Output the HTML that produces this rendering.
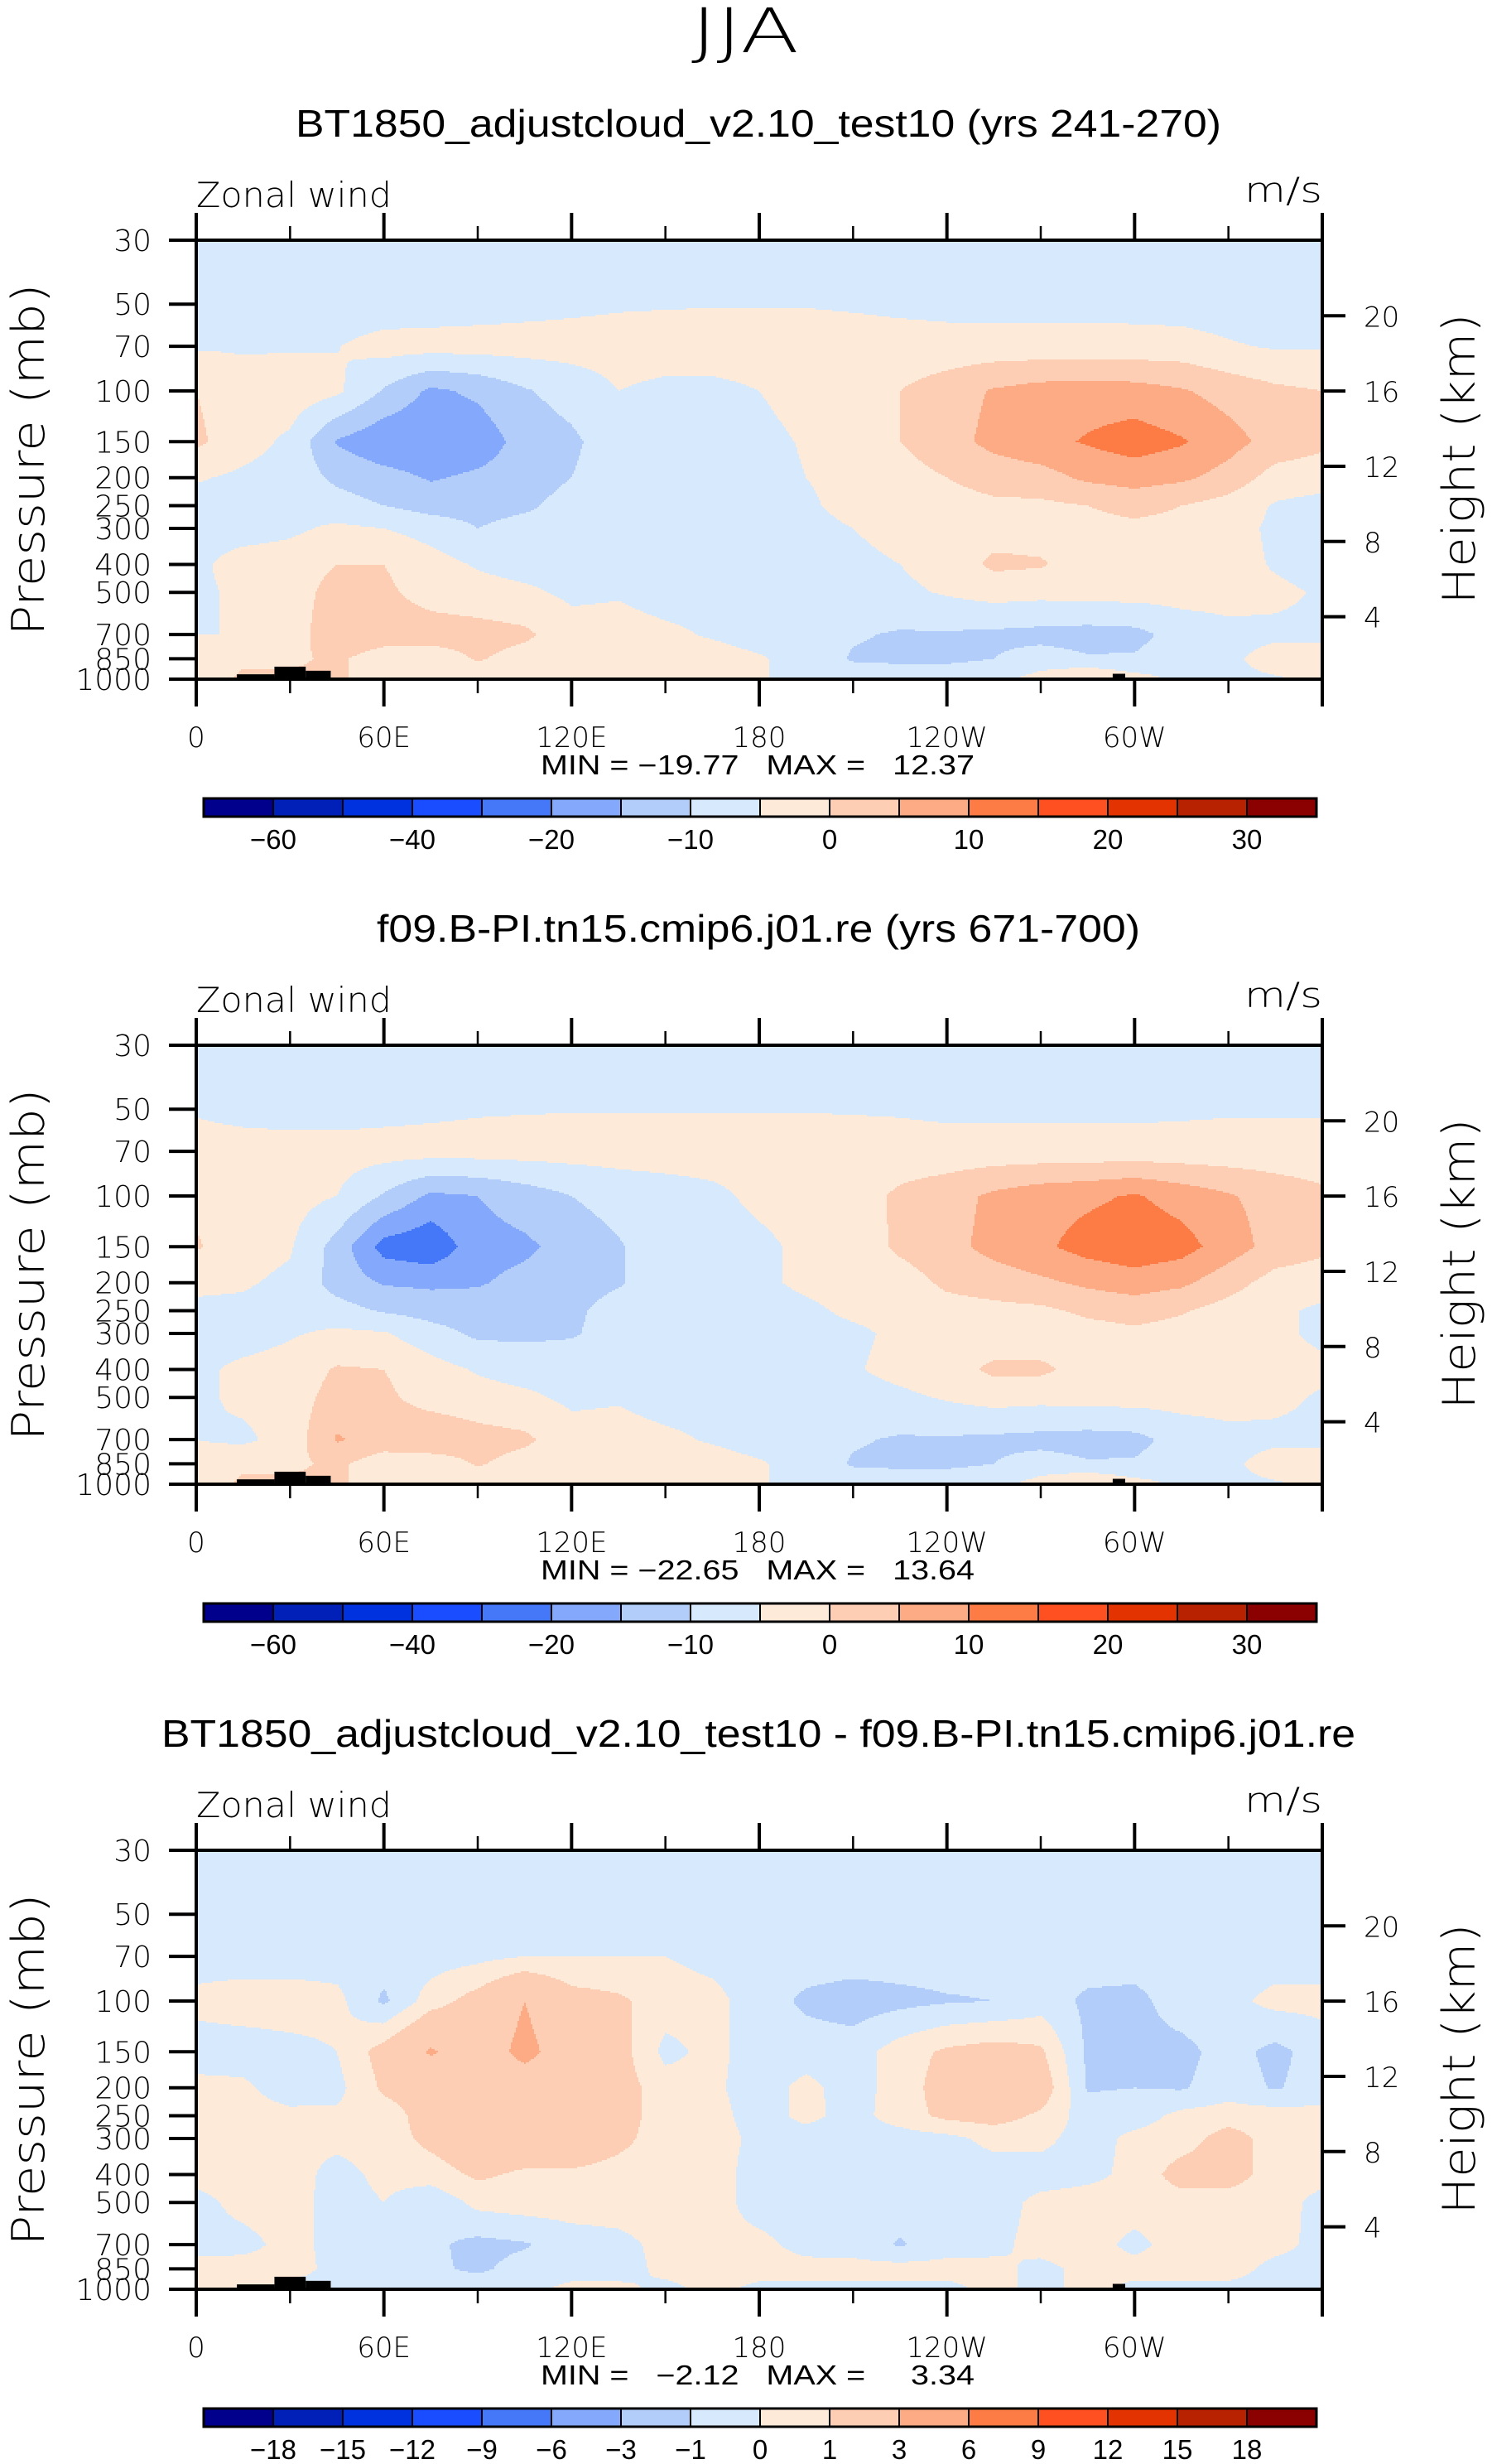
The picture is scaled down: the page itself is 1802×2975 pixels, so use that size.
<!DOCTYPE html>
<html><head><meta charset="utf-8"><title>JJA Zonal wind</title>
<style>
html,body{margin:0;padding:0;background:#fff;}
svg{display:block;}
text{font-family:"Liberation Sans",Arial,sans-serif;fill:#000;}
text.thin{font-family:"DejaVu Sans","Liberation Sans",sans-serif;font-weight:200;}
</style></head>
<body>
<svg id="chart" xmlns="http://www.w3.org/2000/svg" width="1802" height="2975" viewBox="0 0 1802 2975">
<rect x="0" y="0" width="1802" height="2975" fill="#fff"/>
<text class="thin" x="900" y="63" font-size="74" text-anchor="middle" textLength="130" lengthAdjust="spacingAndGlyphs">JJA</text>
</svg>
<script>
// ---------- data ----------
const lons = [0,15,30,45,60,75,90,105,120,135,150,165,180,195,210,225,240,255,270,285,300,315,330,345,360];
const levels = [30,50,70,100,150,200,250,300,400,500,700,850,1000];
const colors = ["#00008c","#0020b8","#0032e0","#1a4dff","#4478f8","#84a8fb","#b3cdfb","#d6e9fd","#feead9","#fdcdb4","#fcab85","#fd7c45","#fe5020","#e23300","#b82200","#8b0000"];
const bounds12 = [-60,-50,-40,-30,-20,-15,-10,-5,0,5,10,15,20,25,30];
const bounds3 = [-18,-15,-12,-9,-6,-3,-1,0,1,3,6,9,12,15,18];
const cbLabels12 = ["−60","","−40","","−20","","−10","","0","","10","","20","","30"];
const cbLabels3 = ["−18","−15","−12","−9","−6","−3","−1","0","1","3","6","9","12","15","18"];
const lonTicks = [0,60,120,180,240,300];
const lonTickLabels = ["0","60E","120E","180","120W","60W"];
const presTicks = [30,50,70,100,150,200,250,300,400,500,700,850,1000];
const kmTicks = [4,8,12,16,20];
const titles = ["BT1850_adjustcloud_v2.10_test10 (yrs 241-270)","f09.B-PI.tn15.cmip6.j01.re (yrs 671-700)","BT1850_adjustcloud_v2.10_test10 - f09.B-PI.tn15.cmip6.j01.re"];
const minMax = ["MIN = −19.77   MAX =   12.37","MIN = −22.65   MAX =   13.64","MIN =   −2.12   MAX =     3.34"];
const terrainLonStart = [13,25,35,96,285,293,297];
const terrainLonEnd = [25,35,43,98,293,297,305];
const terrainSurfP = [962,905,935,993,990,958,990];

const panel1 = [
[-8,-8,-8,-8,-8,-8,-8,-8,-8,-8,-8,-8,-8,-8,-8,-8,-8,-8,-8,-8,-8,-8,-8,-8,-8],
[-8,-8,-8,-8,-8,-7.5,-7,-6.5,-6,-5.5,-5.3,-5.2,-5.2,-5.2,-5.5,-6,-6.5,-6.5,-6.5,-6.5,-6.8,-7.2,-7.5,-8,-8],
[-5.5,-5.5,-5.5,-5.2,-3,-3,-3,-3,-3,-3,-3,-3,-3,-3,-3,-3,-3,-3,-3,-3,-3,-3,-4.5,-5.5,-5.5],
[0,-3,-2,-4,-10.5,-16,-14,-10.5,-8,-5,-6,-6,-5,-3,-2,0,2.5,5.5,7,7.5,7,5.5,3,1,0],
[1,-3,-6,-15.5,-19,-19.5,-18,-13,-11,-7,-7,-7,-6.5,-4.5,-2.5,0,3,6.5,8.5,10.5,12.5,10.5,7,3,1],
[-4.5,-6,-7,-11,-13,-15.5,-14,-12.5,-10,-7,-7,-7,-7,-5,-3,-2,0,2,3,6,7,6,3,-2,-2.5],
[-7,-7,-7,-8,-10,-12,-12,-11,-8,-7,-7,-7,-7,-6,-3,-2.5,-2,-1,-1,0,2,0,-2,-5.5,-7],
[-7,-7,-6,-4,-5,-7,-10,-8,-7,-7,-7,-7,-7,-7,-5,-3,-2,-2,-2,-2,-1.5,-2,-3,-6,-7],
[-6,-3,-2.5,0,0,-3,-5.5,-7,-7,-7,-7,-7,-7,-7,-6.5,-5,-3,1,0.5,-2.5,-3,-3,-3,-5.5,-7],
[-6,-4,-2.5,2,1,-2,-3,-4,-6,-5.5,-7,-7,-7,-7,-7,-6,-4.5,-3,-3.5,-3,-3,-3,-3,-4,-5.5],
[-5,-5,-3,4,3,2.5,2,1,-3,-3,-4,-5.5,-7,-7,-9.5,-10.5,-10.5,-11,-11.5,-12,-11.5,-8,-6.5,-6,-6],
[-3,-1,-1,1,-3,-3,0.5,-2,-3,-3,-3,-3,-4.5,-7,-10.5,-11,-11,-10,-8,-9.5,-9.5,-7,-6,-3,-3],
[-3,1,1,1,-3,-3,-3,-3,-3,-3,-3,-3,-4.5,-7,-7,-7,-7,-6.5,-3,1,-3,-6,-6,-5.5,-4]
];
const panel2 = [
[-8,-8,-8,-8,-8,-8,-8,-8,-8,-8,-8,-8,-8,-8,-8,-8,-8,-8,-8,-8,-8,-8,-8,-8,-8],
[-5.5,-6.5,-7,-7,-6.5,-6,-5.5,-5.3,-5.2,-5.2,-5.2,-5.2,-5.2,-5.2,-5.3,-5.5,-6,-6,-6,-6,-6,-5.8,-5.5,-5.5,-5.5],
[-3,-3,-3,-3,-3,-3,-3,-3,-3,-3,-3,-3,-3,-3,-3,-3,-3,-3,-3,-3,-3,-3,-3,-3,-3],
[-1,-3,-3,-5,-10.5,-16,-15,-12.5,-10,-8,-7,-6,-4,-3,-2.5,1,3,6,8,9,10.5,8,5.5,3,1],
[0.5,-3,-4.5,-12,-22,-24,-17,-16,-13,-10.5,-7,-7,-6,-4,-3,1,3.5,6.5,9,12,13.5,12,7.5,3,1],
[-4,-4.5,-6,-12,-15.5,-16,-15.5,-13.5,-12,-10.5,-7,-7,-6,-4,-3,-2.5,1,2.5,4,6,7.5,6,2,-2,-2.5],
[-6,-6,-7,-8,-10.5,-12,-12.5,-12,-11,-8,-7,-7,-7,-6,-4,-3,-2,-1.5,-1,1,2,0.5,-2,-4,-6],
[-7,-7,-5.5,-4,-4.5,-8,-11,-11,-10.5,-8,-7,-7,-7,-7,-6,-4,-3,-3,-3,-2,-1,-2,-3,-4,-6],
[-6,-4,-3,0.5,0,-3,-5.5,-7,-7,-7,-7,-7,-7,-7,-5.5,-3.5,-2,1,1,-2,-3,-3,-3,-3.5,-4],
[-6,-4,-2.5,2,1,-2,-3,-4,-6,-5.5,-7,-7,-7,-7,-7,-6,-4.5,-3,-3.5,-3,-3,-3,-3,-4,-5.5],
[-5,-6,-3,5.5,3,4,2,1,-3,-3,-4,-5.5,-7,-7,-9.5,-10.5,-10.5,-11,-11.5,-12,-11.5,-8,-6.5,-6,-6],
[-3,-1,-1,1,-3,-3,0.5,-2,-3,-3,-3,-3,-4.5,-7,-10.5,-11,-11,-10,-8,-9.5,-9.5,-7,-6,-3,-3],
[-3,1,1,1,-3,-3,-3,-3,-3,-3,-3,-3,-4.5,-7,-7,-7,-7,-6.5,-3,1,-3,-6,-6,-5.5,-4]
];
const panel3 = [
[-0.5,-0.5,-0.5,-0.5,-0.5,-0.5,-0.5,-0.5,-0.5,-0.5,-0.5,-0.5,-0.5,-0.5,-0.5,-0.5,-0.5,-0.5,-0.5,-0.5,-0.5,-0.5,-0.5,-0.5,-0.5],
[-0.5,-0.5,-0.5,-0.5,-0.5,-0.5,-0.5,-0.5,-0.5,-0.5,-0.5,-0.5,-0.5,-0.5,-0.5,-0.5,-0.5,-0.5,-0.5,-0.5,-0.5,-0.5,-0.5,-0.5,-0.5],
[-0.5,-0.5,-0.5,-0.5,-0.5,-0.5,-0.3,0,0,0,0,-0.3,-0.5,-0.5,-0.5,-0.5,-0.5,-0.5,-0.5,-0.5,-0.5,-0.5,-0.5,-0.5,-0.5],
[0.3,0.5,0.5,0.3,-1.2,0.5,1.5,3,1.5,1.2,0.5,0.3,-0.5,-1.2,-1.5,-1.3,-1.1,-1,-0.5,-1.2,-1.3,-0.5,-0.3,0.3,0.3],
[-0.5,-0.5,-0.3,0,1.5,3.2,2,3.5,2,1.5,-0.3,0.3,-0.5,-0.5,-0.5,0.5,1.2,1.5,1.2,-1.2,-1.3,-1.3,-0.6,-1.3,-0.5],
[0.3,0.2,-0.6,-0.3,1.2,1.5,2,2,2,1.5,0.5,0.2,-0.5,0.3,-0.5,0.5,1.5,2,1.8,-1.1,-1,-1.1,-0.5,-1.1,-0.5],
[0.4,0.5,0.3,0.2,0.5,1.5,2,2,2,1.5,0.5,0.4,-0.5,0.3,-0.4,0.5,1.3,1.5,0.8,-0.5,-0.5,0.3,0.5,0.5,0.3],
[0.5,0.5,0.3,0.3,0.5,1.3,2,2,2,1.3,0.5,0.5,-0.3,-0.5,-0.5,-0.5,-0.3,0.3,0.3,-0.5,0.3,0.5,1.5,0.5,0.4],
[0.3,0.5,0.5,-0.4,0.3,0.5,1.2,0.8,0.8,0.6,0.5,0.5,-0.5,-0.5,-0.5,-0.5,-0.5,-0.5,-0.5,-0.3,0.3,1.5,1.5,0.5,0.3],
[-0.3,0.3,0.5,-0.5,0,-0.8,0.3,0.5,0.5,0.5,0.5,0.5,-0.5,-0.5,-0.5,-0.5,-0.5,-0.5,0.3,0.5,0.5,0.5,0.5,0.4,-0.3],
[-0.3,-0.3,0.3,-0.3,-0.4,-0.8,-1.3,-1.1,-0.5,-0.3,0.3,0.3,0.3,-0.4,-0.5,-1.1,-0.5,-0.3,0.4,0.5,-0.3,0.5,0.5,0.3,-0.3],
[0.3,0.4,0.4,-0.3,-0.5,-0.8,-1.2,-0.6,-0.5,-0.5,0.3,0.5,0.5,0.4,0.4,0.4,0.4,0.3,-0.3,0.3,0.4,0.4,0.4,-0.3,-0.4],
[0.3,0.3,-0.3,-0.4,-0.3,-0.3,-0.3,-0.3,0.3,0.3,-0.3,0.3,-0.3,-0.3,-0.3,-0.3,-0.3,0.3,-0.3,0.3,-0.3,-0.3,-0.3,-0.3,-0.3]
];

// ---------- layout ----------
const NS = "http://www.w3.org/2000/svg";
const svg = document.getElementById("chart");
const PL = 237, PW = 1360, PH = 530, PANEL_DY = 972, TOP0 = 290;
const LNR = Math.log(1000/30);
const KM_H = 6.655, KM_P0 = 1108;
function mk(tag, attrs, parent){
  const e = document.createElementNS(NS, tag);
  for (const k in attrs) e.setAttribute(k, attrs[k]);
  (parent || svg).appendChild(e);
  return e;
}
function xOf(lon){ return PL + lon/360*PW; }
function yRel(p){ return Math.log(p/30)/LNR*PH; }
function classOf(v, b){ let c = 0; for (let i=0;i<b.length;i++) if (v >= b[i]) c++; return c; }

const panels = [
  {vals: panel1, bounds: bounds12, labels: cbLabels12},
  {vals: panel2, bounds: bounds12, labels: cbLabels12},
  {vals: panel3, bounds: bounds3, labels: cbLabels3}
];
const levY = levels.map(yRel);

panels.forEach((P, pi) => {
  const top = TOP0 + pi*PANEL_DY;
  const n = pi + 1;
  const g = mk("g", {});
  
  

  const t = mk("text", {x: 916, y: top - 125, "font-size": 46, "text-anchor": "middle", textLength: [1118,922,1442][pi], lengthAdjust: "spacingAndGlyphs"}, g);
  t.textContent = titles[pi];
  
  

  const zw = mk("text", {"class": "thin", x: 237, y: top - 40, "font-size": 42, textLength: 236, lengthAdjust: "spacingAndGlyphs"}, g);
  zw.textContent = "Zonal wind";
  
  

  const un = mk("text", {"class": "thin", x: 1597, y: top - 46, "font-size": 42, "text-anchor": "end", textLength: 94, lengthAdjust: "spacingAndGlyphs"}, g);
  un.textContent = "m/s";
  
  

  // contour fill
  const fill = mk("g", {"shape-rendering": "crispEdges"}, g);
  
  
  const V = P.vals;
  for (let py = 0; py < PH; py += 2) {
    const yc = py + 1;
    let k = 0;
    while (k < levels.length - 2 && yc > levY[k+1]) k++;
    const ty = Math.min(1, Math.max(0, (yc - levY[k]) / (levY[k+1] - levY[k])));
    let runStart = 0, runCls = -1;
    const flush = (endPx) => {
      if (runCls < 0) return;
      mk("rect", {x: PL + runStart, y: top + py, width: endPx - runStart, height: 2, fill: colors[runCls]}, fill);
    };
    for (let px = 0; px < PW; px += 2) {
      const lon = (px + 1) / PW * 360;
      let i = Math.min(Math.floor(lon / 15), lons.length - 2);
      const s = (lon - lons[i]) / (lons[i+1] - lons[i]);
      const v = (1-ty)*((1-s)*V[k][i] + s*V[k][i+1]) + ty*((1-s)*V[k+1][i] + s*V[k+1][i+1]);
      const c = classOf(v, P.bounds);
      if (c !== runCls) { flush(px); runStart = px; runCls = c; }
    }
    flush(PW);
  }

  // terrain
  for (let j = 0; j < terrainSurfP.length; j++) {
    const ys = top + yRel(terrainSurfP[j]);
    const r = mk("rect", {x: xOf(terrainLonStart[j]), y: ys, width: xOf(terrainLonEnd[j]) - xOf(terrainLonStart[j]), height: top + PH - ys, fill: "#000"}, g);
    
    
  }

  // frame
  const fr = mk("rect", {x: PL, y: top, width: PW, height: PH, fill: "none", stroke: "#000", "stroke-width": 4}, g);
  
  

  // lon ticks
  for (let lon = 0; lon <= 360; lon += 30) {
    const major = lon % 60 === 0;
    const x = xOf(lon);
    const len = major ? 33 : 17;
    const w = major ? 4 : 2.5;
    const t1 = mk("line", {x1: x, x2: x, y1: top, y2: top - len, stroke: "#000", "stroke-width": w}, g);
    
    
    const t2 = mk("line", {x1: x, x2: x, y1: top + PH, y2: top + PH + len, stroke: "#000", "stroke-width": w}, g);
    
    
  }
  lonTicks.forEach((lon, j) => {
    const lt = mk("text", {"class": "thin", x: xOf(lon), y: top + 612, "font-size": 34, "text-anchor": "middle"}, g);
    lt.textContent = lonTickLabels[j];
    
    
  });

  // pressure ticks
  presTicks.forEach(p => {
    const y = top + yRel(p);
    const tk = mk("line", {x1: PL - 33, x2: PL, y1: y, y2: y, stroke: "#000", "stroke-width": 4}, g);
    
    
    const lb = mk("text", {"class": "thin", x: 183, y: y + 13, "font-size": 36, "text-anchor": "end"}, g);
    lb.textContent = String(p);
    
    
  });
  const yt = mk("text", {"class": "thin", x: 0, y: 0, "font-size": 54, "text-anchor": "middle", textLength: 425, lengthAdjust: "spacingAndGlyphs", transform: "translate(53," + (top + 265) + ") rotate(-90)"}, g);
  yt.textContent = "Pressure (mb)";
  
  

  // height ticks
  kmTicks.forEach(km => {
    const p = KM_P0 * Math.exp(-km / KM_H);
    const y = top + yRel(p);
    const tk = mk("line", {x1: PL + PW, x2: PL + PW + 28, y1: y, y2: y, stroke: "#000", "stroke-width": 4}, g);
    
    
    const lb = mk("text", {"class": "thin", x: 1647, y: y + 13, "font-size": 34}, g);
    lb.textContent = String(km);
    
    
  });
  const rt = mk("text", {"class": "thin", x: 0, y: 0, "font-size": 54, "text-anchor": "middle", textLength: 351, lengthAdjust: "spacingAndGlyphs", transform: "translate(1781," + (top + 264) + ") rotate(-90)"}, g);
  rt.textContent = "Height (km)";
  
  

  // min/max
  const mm = mk("text", {x: 915, y: top + 645, "font-size": 33, "text-anchor": "middle", style: "white-space:pre", textLength: 524, lengthAdjust: "spacingAndGlyphs"}, g);
  mm.textContent = minMax[pi];
  
  

  // colorbar
  const cb = mk("g", {}, g);
  
  
  const cbL = 246, cbW = 84, cbT = top + 674, cbH = 22;
  colors.forEach((c, j) => {
    const r = mk("rect", {x: cbL + j*cbW, y: cbT, width: cbW, height: cbH, fill: c, stroke: "#000", "stroke-width": 2}, cb);
    
    
  });
  const ob = mk("rect", {x: cbL, y: cbT, width: cbW*16, height: cbH, fill: "none", stroke: "#000", "stroke-width": 3}, cb);
  
  
  P.labels.forEach((s, j) => {
    if (!s) return;
    const lb = mk("text", {x: cbL + (j+1)*cbW, y: cbT + 61, "font-size": 33, "text-anchor": "middle"}, cb);
    lb.textContent = s;
    
    
  });
});
</script>
</body></html>
